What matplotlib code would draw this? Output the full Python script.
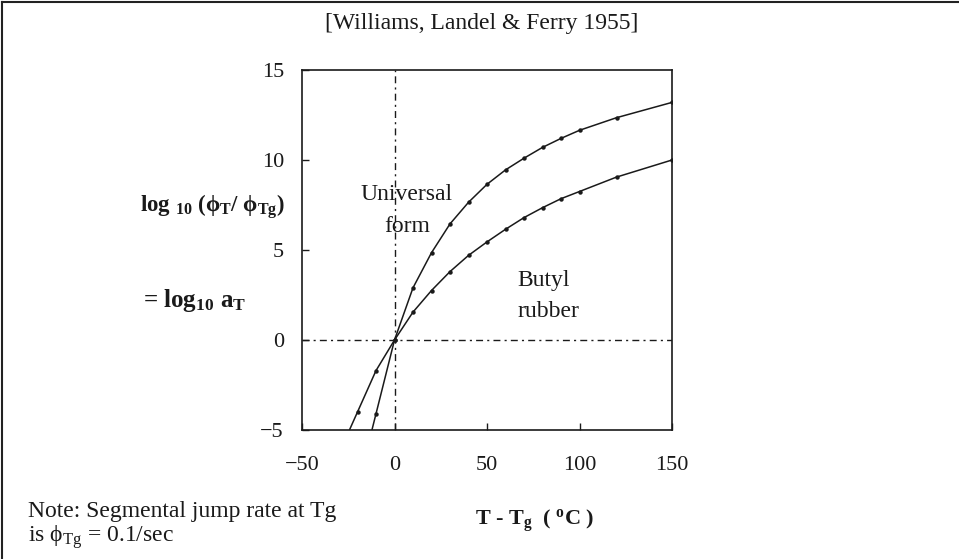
import numpy as np
import matplotlib
matplotlib.use("Agg")
import matplotlib.pyplot as plt
from matplotlib.lines import Line2D

plt.rcParams['font.family'] = ['Liberation Serif', 'DejaVu Serif']
plt.rcParams['mathtext.default'] = 'regular'

# ---- data ----
universal_x = [-10, 0, 10, 20, 30, 40, 50, 60, 70, 80, 90, 100, 120, 150]
universal_y = [-4.1, 0.0, 2.9, 4.85, 6.45, 7.65, 8.65, 9.45, 10.1, 10.7, 11.2, 11.65, 12.35, 13.2]
butyl_x = [-20, -10, 0, 10, 20, 30, 40, 50, 60, 70, 80, 90, 100, 120, 150]
butyl_y = [-4.0, -1.7, 0.0, 1.55, 2.75, 3.8, 4.7, 5.45, 6.15, 6.8, 7.35, 7.85, 8.25, 9.05, 10.0]
x_ticks = [-50, 0, 50, 100, 150]
y_ticks = [-5, 0, 5, 10, 15]
x_lim = (-50, 150)
y_lim = (-5, 15)

W, H = 959, 559
fig = plt.figure(figsize=(W / 100, H / 100), dpi=100)


def px(x, y):
    return x / W, 1 - y / H


ax_l, ax_r, ax_t, ax_b = 302, 672, 70, 430
ax = fig.add_axes([ax_l / W, 1 - ax_b / H, (ax_r - ax_l) / W, (ax_b - ax_t) / H])
ax.set_xlim(*x_lim)
ax.set_ylim(*y_lim)


def extend_to_bottom(xs, ys, ybot):
    # straight continuation of the first segment down to the lower axis limit
    x0, x1 = xs[0], xs[1]
    y0, y1 = ys[0], ys[1]
    slope = (y1 - y0) / (x1 - x0)
    xb = x0 + (ybot - y0) / slope
    return [xb] + list(xs), [ybot] + list(ys)


ink = '#1a1a1a'
for xs, ys in [(universal_x, universal_y), (butyl_x, butyl_y)]:
    lx, ly = extend_to_bottom(xs, ys, y_lim[0])
    ax.plot(lx, ly, color=ink, lw=1.1, solid_capstyle='butt', solid_joinstyle='round')
    ax.plot(xs, ys, 'o', color=ink, ms=3.2, mew=0)

dash = (0, (5, 3, 1.5, 3))
ax.axvline(0, color=ink, lw=1.0, linestyle=dash)
ax.axhline(0, color=ink, lw=1.0, linestyle=dash)

for s in ax.spines.values():
    s.set_linewidth(1.2)
    s.set_color(ink)

ax.set_xticks(x_ticks)
ax.set_yticks(y_ticks)
ax.set_xticklabels([str(v).replace('-', '\u2212') for v in x_ticks])
ax.set_yticklabels([str(v).replace('-', '\u2212') for v in y_ticks])
ax.tick_params(axis='x', direction='in', length=5, width=1.0, pad=18.5, labelsize=16, colors=ink)
ax.tick_params(axis='y', direction='in', length=5, width=1.0, pad=13, labelsize=16, colors=ink)

# ---- texts ----
fs = 17
fig.text(*px(482, 29), '[Williams, Landel & Ferry 1955]', ha='center', va='baseline',
         fontsize=fs, color=ink)

fig.text(*px(140, 212), r'log $_{10}$ ($ϕ_{T}$/ $ϕ_{Tg}$)', ha='left', va='baseline',
         fontsize=16.5, fontweight='bold', color=ink)
fig.text(*px(143, 307), r'= log$_{10}$ a$_{T}$', ha='left', va='baseline',
         fontsize=18, fontweight='bold', color=ink)

fig.text(*px(535, 525), r'T - T$_{g}$  ( $^{o}$C )', ha='center', va='baseline',
         fontsize=16, fontweight='bold', color=ink)

fig.text(*px(407, 200), 'Universal', ha='center', va='baseline', fontsize=fs, color=ink)
fig.text(*px(407, 232), 'form', ha='center', va='baseline', fontsize=fs, color=ink)
fig.text(*px(517, 286), 'Butyl', ha='left', va='baseline', fontsize=fs, color=ink)
fig.text(*px(517, 317), 'rubber', ha='left', va='baseline', fontsize=fs, color=ink)

fig.text(*px(28, 517), 'Note: Segmental jump rate at Tg', ha='left', va='baseline',
         fontsize=fs, color=ink)
fig.text(*px(28, 542), r'is $ϕ_{Tg}$ = 0.1/sec', ha='left', va='baseline',
         fontsize=fs, color=ink)

# ---- outer border (top and left edges) ----
fig.add_artist(Line2D([2 / W, 1], [1 - 1.5 / H, 1 - 1.5 / H],
                      transform=fig.transFigure, color='#222222', lw=1.5))
fig.add_artist(Line2D([2 / W, 2 / W], [0, 1 - 1.5 / H],
                      transform=fig.transFigure, color='#222222', lw=1.5))

fig.savefig('out.png', dpi=100)
